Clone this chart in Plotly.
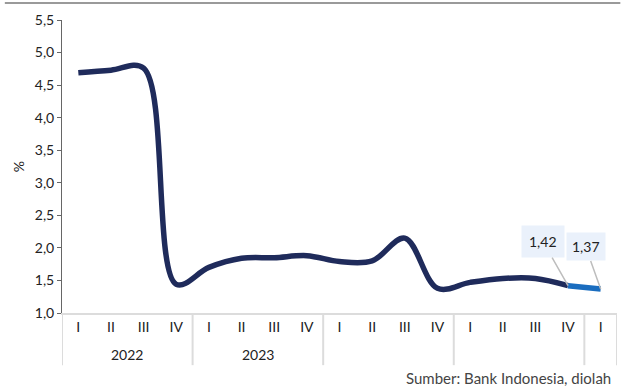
import plotly.graph_objects as go

quarters = ["I", "II", "III", "IV"] * 4 + ["I"]
year_labels = ["2022", "2023", "", "", ""]
group_sizes = [4, 4, 4, 4, 1]
values = [4.69, 4.73, 4.76, 1.44, 1.70, 1.84, 1.85, 1.88, 1.79, 1.80, 2.15, 1.38,
          1.47, 1.53, 1.53, 1.42, 1.37]

xs = list(range(len(quarters)))
navy = "#1f2b5b"
blue = "#1a6dbf"
font = "Lato"
grid = "#dcdcdc"

fig = go.Figure()
fig.add_trace(go.Scatter(
    x=xs[:16], y=values[:16],
    mode="lines", line=dict(color=navy, width=5.5, shape="spline", smoothing=1.0),
    hoverinfo="skip", showlegend=False,
))
fig.add_trace(go.Scatter(
    x=xs[15:], y=values[15:],
    mode="lines", line=dict(color=blue, width=5.5),
    hoverinfo="skip", showlegend=False,
))

# labels for the last two points
for i, (ax, ay, pad) in zip([15, 16], [(-25, -44, 7), (-15, -42, 5)]):
    fig.add_annotation(
        x=xs[i], y=values[i],
        text=f"{values[i]:.2f}".replace(".", ","),
        showarrow=True, arrowhead=0, arrowwidth=1.5, arrowcolor="#bdbdbd",
        ax=ax, ay=ay, bgcolor="#eaf1fb", borderpad=pad,
        font=dict(family=font, size=14, color="#222"),
    )

# group dividers and year labels under the axis
start = 0
bounds = [-0.5]
for lab, n in zip(year_labels, group_sizes):
    if lab:
        fig.add_annotation(x=start + (n - 1) / 2, y=-0.143, xref="x", yref="paper",
                           text=lab, showarrow=False, yanchor="middle",
                           font=dict(family=font, size=14, color="#222"))
    start += n
    bounds.append(start - 0.5)
for b in bounds:
    fig.add_shape(type="line", xref="x", yref="paper", x0=b, x1=b, y0=0, y1=-0.178,
                  line=dict(color=grid, width=2))

fig.add_annotation(
    xref="paper", yref="paper", x=0.993, y=-0.222, xanchor="right", yanchor="middle",
    text="Sumber: Bank Indonesia, diolah", showarrow=False,
    font=dict(family=font, size=15, color="#444"),
)

# thin rule along the top of the figure
fig.add_shape(type="line", xref="paper", yref="paper",
              x0=-0.103, x1=1.006, y0=1.058, y1=1.058,
              line=dict(color="#9a9a9a", width=2))

fig.update_layout(
    width=629, height=390,
    margin=dict(l=62, r=12, t=20, b=77),
    paper_bgcolor="white", plot_bgcolor="white",
    separators=", ",
    font=dict(family=font, size=14, color="#222"),
    xaxis=dict(
        range=[-0.5, 16.5], tickmode="array", tickvals=xs, ticktext=quarters,
        showline=True, linecolor=grid, linewidth=2, showgrid=False, ticks="",
        zeroline=False, tickfont=dict(size=14, color="#222"),
    ),
    yaxis=dict(
        range=[1.0, 5.5], dtick=0.5, tickformat=".1f", showgrid=False,
        showline=True, linecolor="#666", linewidth=1, ticks="outside",
        ticklen=4, tickcolor="#666", zeroline=False,
        title=dict(text="%", standoff=6, font=dict(size=14)),
        tickfont=dict(size=14, color="#222"),
    ),
)

fig.write_html("out.html", config={"displayModeBar": False},
               post_script="document.body.style.margin='0';")
